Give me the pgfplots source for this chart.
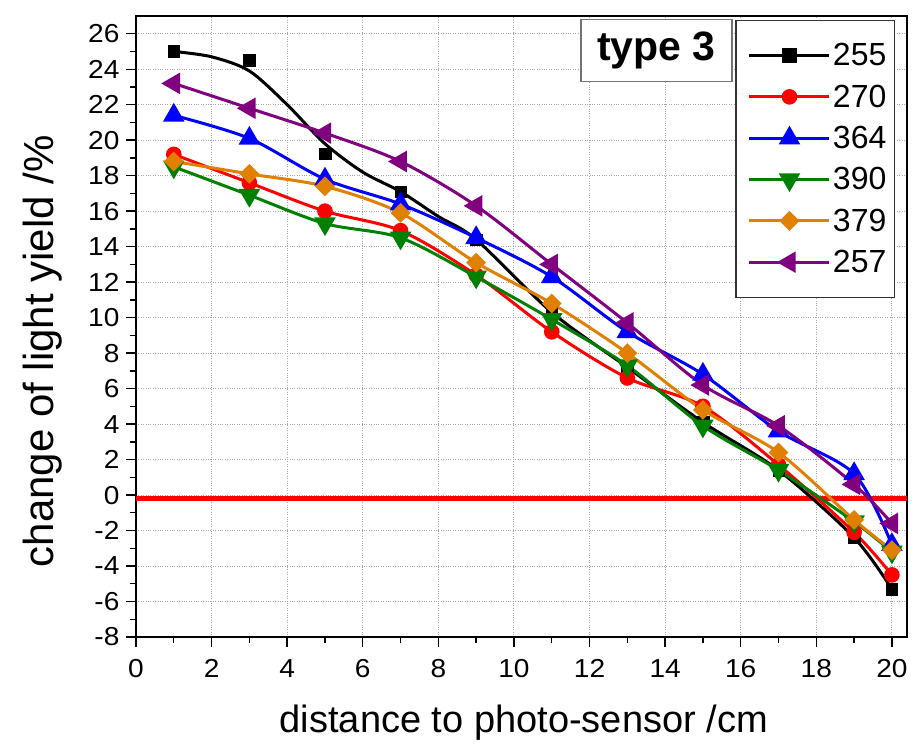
\documentclass[border=0pt]{standalone}
\usepackage{fontspec}
\setmainfont{Liberation Sans}
\newfontfamily\tickfont[FakeStretch=1.08]{Liberation Sans}
\usepackage{pgfplots}
\pgfplotsset{compat=1.18}
\definecolor{myorange}{RGB}{224,128,0}
\definecolor{mypurple}{RGB}{128,0,128}
\definecolor{mygreen}{RGB}{0,128,0}
\begin{document}
\begin{tikzpicture}
\begin{axis}[name=ax, scale only axis, width=771pt, height=621pt,
  xmin=0, xmax=20.4, ymin=-8, ymax=27,
  xtick={0,2,...,20}, ytick={-8,-6,...,26},
  minor x tick num=1, minor y tick num=1,
  tick pos=left, tick align=outside,
  major tick length=10pt, minor tick length=6pt,
  every tick/.style={black, line width=1.4pt},
  axis line style={line width=2.4pt},
  grid=major, major grid style={gray!70, dotted, line width=0.9pt},
  /pgf/number format/assume math mode=true,
  yticklabel style={font=\tickfont\fontsize{26}{30}\selectfont, xshift=-3pt},
  xticklabel style={font=\tickfont\fontsize{26}{30}\selectfont, yshift=-9pt},
  xlabel={distance to photo-sensor /cm},
  ylabel={change of light yield /\%},
  xlabel style={at={(axis description cs:0.503,-0.153)}, anchor=base, font=\fontsize{38}{40}\selectfont},
  ylabel style={at={(axis description cs:-0.1075,0.46)}, anchor=base, font=\fontsize{42}{44}\selectfont},
  legend style={at={(0.9844,0.9936)}, anchor=north east, draw=black!80, line width=1.2pt,
    font=\fontsize{32}{34}\selectfont, row sep=13.5pt, inner xsep=6pt, inner ysep=21pt},
  legend cell align=left,
  legend image code/.code={\path (-6pt,0pt); \draw[mark repeat=2,mark phase=2] plot coordinates {(0pt,0pt)(40pt,0pt)(80pt,0pt)};},
]
\addplot[red, line width=4.5pt, forget plot] coordinates {(0,-0.2) (20.4,-0.2)};

\addlegendimage{black, line width=3pt, mark=square*, mark size=6pt, mark options={solid}}
\addlegendentry{255}
% black fitted curve
\addplot[black, line width=3pt, smooth, forget plot] coordinates {
(1,25.0) (2,24.7) (3,23.9) (4,22.0) (5,19.8) (6,18.2) (7,17.1) (8,15.7) (9,14.4)
(11,10.3) (13,7.2) (15,4.1) (17,1.4) (19,-2.4) (20,-5.3)};
\addplot[black, only marks, mark=square*, mark size=5.8pt, forget plot] coordinates {
(1,25.0) (3,24.5) (5,19.25) (7,17.1) (9,14.4) (11,10.3) (13,7.2) (15,4.1) (17,1.4) (19,-2.4) (20,-5.3)};

\addplot[red, line width=3pt, smooth, mark=*, mark size=6.3pt, mark options={solid, fill=red}] coordinates {
(1,19.2) (3,17.6) (5,16.0) (7,14.9) (9,12.4) (11,9.2) (13,6.6) (15,5.0) (17,1.7) (19,-2.1) (20,-4.5)};
\addlegendentry{270}

\addplot[blue, line width=3pt, smooth, mark=triangle*, mark size=9.5pt, mark options={solid, fill=blue}] coordinates {
(1,21.4) (3,20.1) (5,17.8) (7,16.4) (9,14.5) (11,12.3) (13,9.2) (15,6.8) (17,3.6) (19,1.2) (20,-2.8)};
\addlegendentry{364}

\addplot[mygreen, line width=3pt, smooth, mark=triangle*, mark size=9.5pt, mark options={solid, fill=mygreen, rotate=180}] coordinates {
(1,18.5) (3,16.9) (5,15.3) (7,14.5) (9,12.3) (11,9.9) (13,7.3) (15,3.9) (17,1.4) (19,-1.5) (20,-3.2)};
\addlegendentry{390}

\addplot[myorange, line width=3pt, smooth, mark=square*, mark size=5.5pt, mark options={solid, fill=myorange, rotate=45}] coordinates {
(1,18.8) (3,18.1) (5,17.4) (7,15.9) (9,13.1) (11,10.8) (13,8.0) (15,4.8) (17,2.4) (19,-1.4) (20,-3.1)};
\addlegendentry{379}

\addplot[mypurple, line width=3pt, smooth, mark=triangle*, mark size=9.5pt, mark options={solid, fill=mypurple, rotate=90}] coordinates {
(1,23.2) (3,21.8) (5,20.4) (7,18.8) (9,16.3) (11,13.0) (13,9.7) (15,6.2) (17,3.9) (19,0.6) (20,-1.6)};
\addlegendentry{257}

\node[draw=black!55, line width=1.2pt, fill=white, font=\bfseries\fontsize{41}{43}\selectfont,
  minimum width=151pt, minimum height=62pt, inner sep=2pt] at (axis description cs:0.675,0.944) {type 3};
\end{axis}
\path (ax.south west) ++(-136pt,-106pt) coordinate (bl);
\path (ax.north east) ++(10pt,16pt) coordinate (tr);
\path (bl) rectangle (tr);
\end{tikzpicture}
\end{document}
